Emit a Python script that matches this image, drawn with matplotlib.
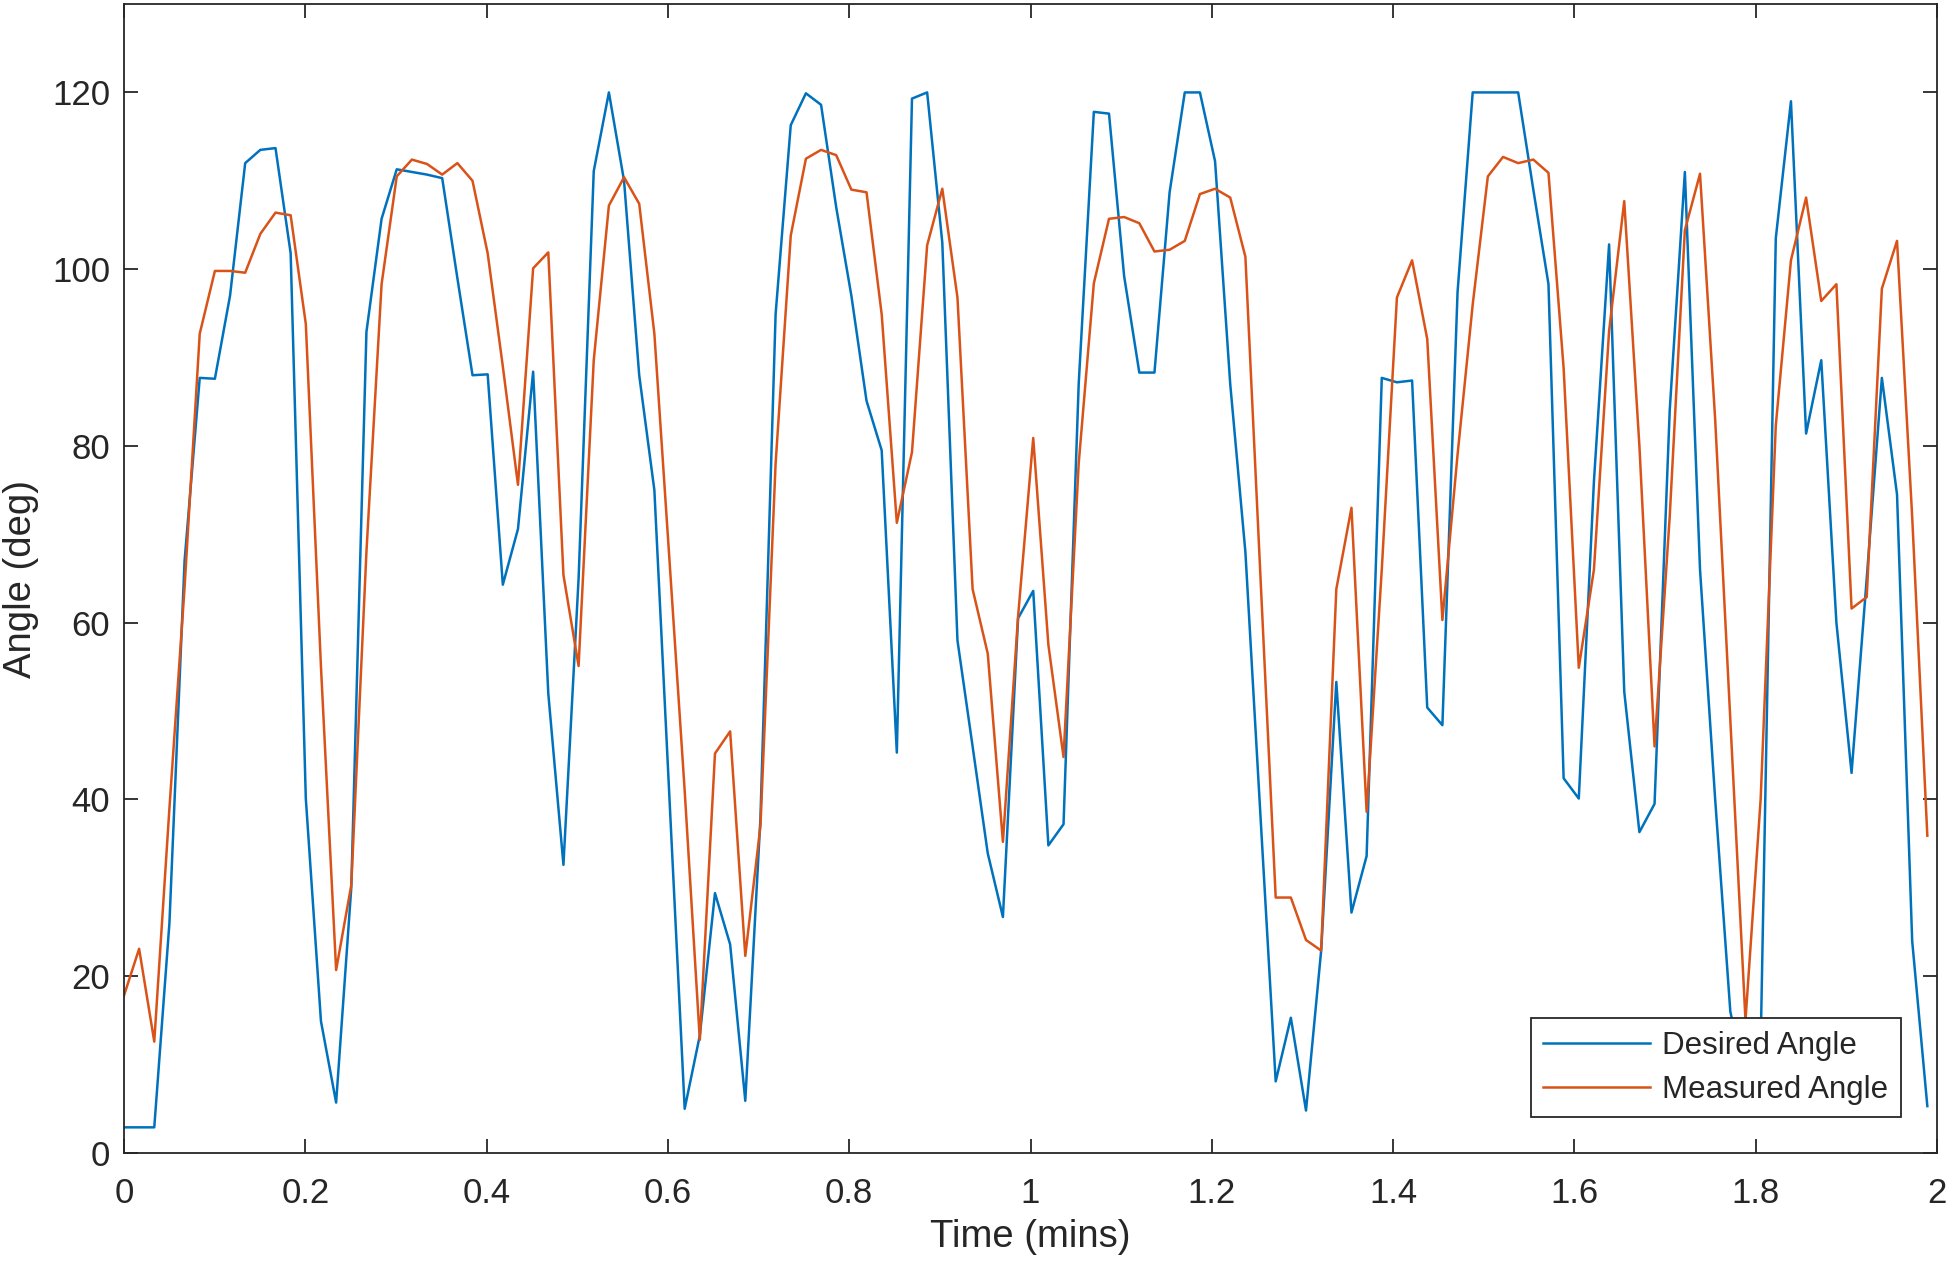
import numpy as np
import matplotlib.pyplot as plt

# one sample per second, plotted in minutes
sample_period_s = 1.003

desired_angle = [
    2.9, 2.9, 2.9, 26, 67, 87.7, 87.6, 97, 112, 113.5,
    113.7, 101.8, 40.1, 14.9, 5.7, 30, 92.9, 105.7, 111.3, 111.0,
    110.7, 110.3, 99, 88.0, 88.1, 64.3, 70.6, 88.4, 52, 32.6,
    65, 111.1, 120, 110, 88, 75, 40, 5.0, 13.3, 29.4,
    23.6, 5.9, 37.9, 94.9, 116.3, 119.9, 118.6, 107, 97, 85.1,
    79.5, 45.3, 119.3, 120, 103, 58, 46, 33.9, 26.7, 60.5,
    63.6, 34.8, 37.2, 87, 117.8, 117.6, 99.2, 88.3, 88.3, 108.7,
    120, 120, 112.2, 87, 68, 38, 8.1, 15.3, 4.8, 22.9,
    53.3, 27.2, 33.6, 87.7, 87.2, 87.4, 50.4, 48.4, 97.4, 120,
    120, 120, 120, 109, 98.3, 42.4, 40.1, 76, 102.8, 52.2,
    36.3, 39.5, 84, 111, 66, 40, 16, 8, 12, 103.5,
    119, 81.4, 89.7, 60, 43, 65, 87.7, 74.5, 24, 5.3,
]

measured_angle = [
    17.8, 23.1, 12.6, 39, 64, 92.7, 99.8, 99.8, 99.6, 104.0,
    106.4, 106.1, 93.8, 55, 20.7, 30.3, 68, 98.3, 110.5, 112.4,
    111.9, 110.7, 112.0, 110.0, 101.8, 89, 75.6, 100.1, 101.9, 65.4,
    55.1, 89.7, 107.2, 110.4, 107.4, 92.7, 67, 41, 12.8, 45.2,
    47.7, 22.3, 37, 78, 103.8, 112.5, 113.5, 112.9, 109.0, 108.7,
    94.9, 71.3, 79.3, 102.7, 109.1, 96.8, 63.8, 56.5, 35.2, 60.7,
    80.9, 57.5, 44.8, 78, 98.4, 105.7, 105.9, 105.2, 102.0, 102.2,
    103.2, 108.5, 109.1, 108.1, 101.4, 65, 28.9, 28.9, 24.1, 22.9,
    63.8, 73, 38.6, 66, 96.8, 101.0, 92.1, 60.3, 79, 96,
    110.5, 112.7, 112.0, 112.4, 110.9, 88.8, 54.9, 66, 93, 107.7,
    80, 46, 72, 104.4, 110.8, 83, 49, 15, 40, 82.3,
    101, 108.1, 96.4, 98.3, 61.6, 62.9, 97.8, 103.2, 72, 35.9,
]

time_min = np.arange(len(desired_angle)) * sample_period_s / 60

plt.rcParams['font.family'] = ['Liberation Sans', 'DejaVu Sans']
axis_color = '#262626'

fig = plt.figure(figsize=(19.46, 12.62), dpi=100)
ax = fig.add_axes([0.0637, 0.0864, 0.9317, 0.9104])

ax.plot(time_min, desired_angle, color='#0072BD', linewidth=1.8, label='Desired Angle')
ax.plot(time_min, measured_angle, color='#D95319', linewidth=1.8, label='Measured Angle')

ax.set_xlim(0, 2)
ax.set_ylim(0, 130)
ax.set_xticks([0, 0.2, 0.4, 0.6, 0.8, 1, 1.2, 1.4, 1.6, 1.8, 2])
ax.set_xticklabels(['0', '0.2', '0.4', '0.6', '0.8', '1', '1.2', '1.4', '1.6', '1.8', '2'])
ax.set_yticks([0, 20, 40, 60, 80, 100, 120])

ax.tick_params(direction='in', length=10, width=1.3, colors=axis_color,
               labelsize=25, top=True, right=True)
ax.tick_params(axis='x', pad=17)
ax.tick_params(axis='y', pad=10)
for spine in ax.spines.values():
    spine.set_color(axis_color)
    spine.set_linewidth(1.3)

ax.set_xlabel('Time (mins)', fontsize=27.5, color=axis_color, labelpad=7)
ax.set_ylabel('Angle (deg)', fontsize=27.5, color=axis_color, labelpad=9)

leg = ax.legend(loc='lower right', bbox_to_anchor=(0.980, 0.031), borderaxespad=0,
                fontsize=22.5, fancybox=False, framealpha=1, edgecolor=axis_color,
                handlelength=3.4, handletextpad=0.4, borderpad=0.4, labelspacing=0.45)
leg.get_frame().set_linewidth(1.3)
for text in leg.get_texts():
    text.set_color(axis_color)

fig.savefig('out.png', dpi=100)
